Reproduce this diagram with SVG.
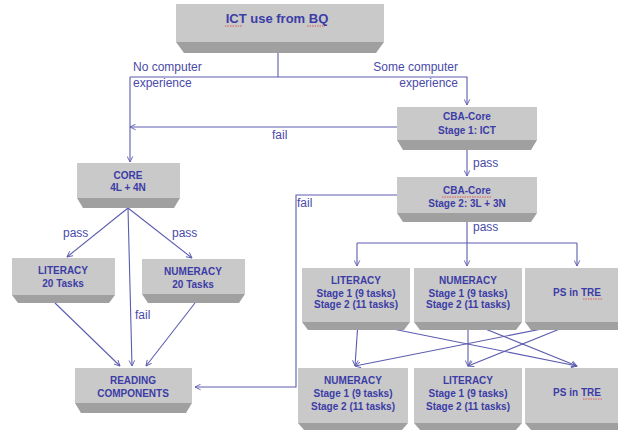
<svg xmlns="http://www.w3.org/2000/svg" width="618" height="430" viewBox="0 0 618 430">
<defs>
<marker id="ah" viewBox="0 0 10 10" refX="9" refY="5" markerWidth="7" markerHeight="7" orient="auto" markerUnits="userSpaceOnUse">
<path d="M1,1 L9,5 L1,9" fill="none" stroke="#5c5cb0" stroke-width="1.3"/>
</marker>
<style>
.lt{fill:#c9c9c9}
.dk{fill:#a0a0a0}
.bt{font-family:"Liberation Sans",Arial,sans-serif;font-weight:bold;font-size:10px;fill:#3c3ca6;text-anchor:middle}
.tt{font-family:"Liberation Sans",Arial,sans-serif;font-weight:bold;font-size:13px;fill:#3c3ca6;text-anchor:middle}
.lb{font-family:"Liberation Sans",Arial,sans-serif;font-size:12px;fill:#4a4aa8}
.cn{fill:none;stroke:#5c5cb0;stroke-width:1.1}
.sq{fill:none;stroke:#e04040;stroke-width:0.8;stroke-dasharray:1.5 1}
</style>
</defs>
<rect width="618" height="430" fill="#ffffff"/>

<g id="connectors">
<path class="cn" d="M278,53 V77"/>
<path class="cn" d="M130,77 H467 V105" marker-end="url(#ah)"/>
<path class="cn" d="M130,77 V162" marker-end="url(#ah)"/>
<path class="cn" d="M397,127 H130" marker-end="url(#ah)"/>
<path class="cn" d="M467,150 V176" marker-end="url(#ah)"/>
<path class="cn" d="M397,195 H296 V387 H195" marker-end="url(#ah)"/>
<path class="cn" d="M467,222 V266" marker-end="url(#ah)"/>
<path class="cn" d="M357,243 H577"/>
<path class="cn" d="M357,243 V266" marker-end="url(#ah)"/>
<path class="cn" d="M577,243 V266" marker-end="url(#ah)"/>
<path class="cn" d="M128,208 L67,257" marker-end="url(#ah)"/>
<path class="cn" d="M128,208 L192,258" marker-end="url(#ah)"/>
<path class="cn" d="M128,208 L132,366" marker-end="url(#ah)"/>
<path class="cn" d="M55,303 L120,366" marker-end="url(#ah)"/>
<path class="cn" d="M195,303 L146,366" marker-end="url(#ah)"/>
<path class="cn" d="M358,322 L355,366" marker-end="url(#ah)"/>
<path class="cn" d="M358,322 L577,366" marker-end="url(#ah)"/>
<path class="cn" d="M468,322 L468,366" marker-end="url(#ah)"/>
<path class="cn" d="M468,322 L577,366" marker-end="url(#ah)"/>
<path class="cn" d="M577,322 L355,366" marker-end="url(#ah)"/>
<path class="cn" d="M577,322 L468,366" marker-end="url(#ah)"/>
<text class="lb" x="133" y="71">No computer</text>
<text class="lb" x="133" y="87">experience</text>
<text class="lb" x="458" y="71" text-anchor="end">Some computer</text>
<text class="lb" x="458" y="87" text-anchor="end">experience</text>
<text class="lb" x="272" y="139">fail</text>
<text class="lb" x="473" y="167">pass</text>
<text class="lb" x="473" y="231">pass</text>
<text class="lb" x="297" y="207">fail</text>
<text class="lb" x="63" y="237">pass</text>
<text class="lb" x="172" y="237">pass</text>
<text class="lb" x="135" y="319">fail</text>
</g>

<g id="ict">
<rect class="lt" x="176" y="4" width="208" height="38"/>
<polygon class="dk" points="176,42 384,42 376,53 184,53"/>
<text class="tt" x="277" y="23">ICT use from BQ</text>
<path class="sq" d="M225,26 H242 M307,26 H325"/>
</g>

<g id="cba1">
<rect class="lt" x="397" y="107" width="140" height="33"/>
<polygon class="dk" points="397,140 537,140 531,150 403,150"/>
<text class="bt" x="467" y="120">CBA-Core</text>
<text class="bt" x="467" y="134">Stage 1: ICT</text>
</g>

<g id="cba2">
<rect class="lt" x="397" y="177" width="140" height="36"/>
<polygon class="dk" points="397,213 537,213 531,222 403,222"/>
<text class="bt" x="467" y="194">CBA-Core</text>
<text class="bt" x="467" y="207">Stage 2: 3L + 3N</text>
<path class="sq" d="M442,197 H491"/>
</g>

<g id="core">
<rect class="lt" x="77" y="163" width="103" height="35"/>
<polygon class="dk" points="77,198 180,198 174,208 83,208"/>
<text class="bt" x="128" y="179">CORE</text>
<text class="bt" x="128" y="191">4L + 4N</text>
</g>

<g id="literacy20">
<rect class="lt" x="12" y="258" width="103" height="37"/>
<polygon class="dk" points="12,295 115,295 109,303 18,303"/>
<text class="bt" x="63" y="274">LITERACY</text>
<text class="bt" x="63" y="287">20 Tasks</text>
</g>

<g id="numeracy20">
<rect class="lt" x="142" y="259" width="103" height="35"/>
<polygon class="dk" points="142,294 245,294 239,303 148,303"/>
<text class="bt" x="193" y="275">NUMERACY</text>
<text class="bt" x="193" y="288">20 Tasks</text>
</g>

<g id="reading">
<rect class="lt" x="75" y="368" width="117" height="35"/>
<polygon class="dk" points="75,403 192,403 186,413 81,413"/>
<text class="bt" x="133" y="384">READING</text>
<text class="bt" x="133" y="397">COMPONENTS</text>
</g>

<g id="lit-s1">
<rect class="lt" x="302" y="268" width="108" height="54"/>
<polygon class="dk" points="302,322 410,322 404,330 308,330"/>
<text class="bt" x="356" y="284">LITERACY</text>
<text class="bt" x="356" y="297">Stage 1 (9 tasks)</text>
<text class="bt" x="356" y="308">Stage 2 (11 tasks)</text>
</g>

<g id="num-s1">
<rect class="lt" x="414" y="268" width="108" height="54"/>
<polygon class="dk" points="414,322 522,322 516,330 420,330"/>
<text class="bt" x="468" y="284">NUMERACY</text>
<text class="bt" x="468" y="297">Stage 1 (9 tasks)</text>
<text class="bt" x="468" y="308">Stage 2 (11 tasks)</text>
</g>

<g id="ps-s1">
<rect class="lt" x="525" y="268" width="93" height="54"/>
<polygon class="dk" points="525,322 618,322 618,330 531,330"/>
<text class="bt" x="577" y="296">PS in TRE</text>
<path class="sq" d="M583,299 H602"/>
</g>

<g id="num-s2">
<rect class="lt" x="298" y="368" width="110" height="55"/>
<polygon class="dk" points="298,423 408,423 402,430 304,430"/>
<text class="bt" x="353" y="384">NUMERACY</text>
<text class="bt" x="353" y="397">Stage 1 (9 tasks)</text>
<text class="bt" x="353" y="410">Stage 2 (11 tasks)</text>
</g>

<g id="lit-s2">
<rect class="lt" x="414" y="368" width="108" height="55"/>
<polygon class="dk" points="414,423 522,423 516,430 420,430"/>
<text class="bt" x="468" y="384">LITERACY</text>
<text class="bt" x="468" y="397">Stage 1 (9 tasks)</text>
<text class="bt" x="468" y="410">Stage 2 (11 tasks)</text>
</g>

<g id="ps-s2">
<rect class="lt" x="525" y="368" width="93" height="55"/>
<polygon class="dk" points="525,423 618,423 618,430 531,430"/>
<text class="bt" x="577" y="396">PS in TRE</text>
<path class="sq" d="M583,399 H602"/>
</g>
</svg>
